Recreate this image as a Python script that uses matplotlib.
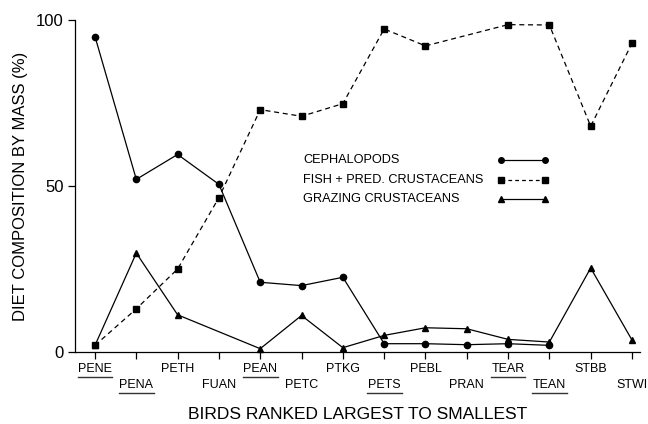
import matplotlib
matplotlib.use("Agg")
import matplotlib.pyplot as plt
import matplotlib.transforms as mtransforms
import numpy as np

birds = ["PENE", "PENA", "PETH", "FUAN", "PEAN", "PETC", "PTKG",
         "PETS", "PEBL", "PRAN", "TEAR", "TEAN", "STBB", "STWI"]
underlined = ["PENE", "PENA", "PEAN", "PETS", "TEAR", "TEAN"]

cephalopods = [95, 52, 59.5, 50.5, 21, 20, 22.5, 2.5, 2.5, 2.2, 2.5, 2, None, None]
fish_pred = [2, 13, 25, 46.5, 73, 71, 74.8, 97.3, 92.2, None, 98.6, 98.5, 68, 93]
grazing = [2, 29.8, 11.2, None, 1, 11, 1.3, 5, 7.3, 7, 3.8, 3, 25.3, 3.6]

plt.rcParams['font.family'] = ['Liberation Sans', 'DejaVu Sans']

fig = plt.figure(figsize=(6.48, 4.24), dpi=100)
ax = fig.add_axes([75/648, 1-352/424, 565/648, 332/424])

x = np.arange(len(birds))

def series(vals):
    xs = [xi for xi, v in zip(x, vals) if v is not None]
    ys = [v for v in vals if v is not None]
    return xs, ys

lw = 0.9
xs, ys = series(cephalopods)
ax.plot(xs, ys, color='black', lw=lw, marker='o', ms=4.5, clip_on=False)
xs, ys = series(fish_pred)
ax.plot(xs, ys, color='black', lw=lw, ls=(0, (4, 3)), marker='s', ms=5, clip_on=False)
xs, ys = series(grazing)
ax.plot(xs, ys, color='black', lw=lw, marker='^', ms=5, clip_on=False)

ax.set_ylim(0, 100)
ax.set_xlim(-20/41.3, 13 + 8/41.3)
ax.set_yticks([0, 50, 100])
ax.set_yticklabels(["0", "50", "100"], fontsize=12)
ax.set_xticks(x)
ax.set_xticklabels([])
ax.tick_params(axis='both', direction='out', length=5, width=0.9, color='black')
ax.tick_params(axis='y', pad=3)
for s in ['top', 'right']:
    ax.spines[s].set_visible(False)
for s in ['left', 'bottom']:
    ax.spines[s].set_linewidth(0.9)

trans = mtransforms.blended_transform_factory(ax.transData, ax.transAxes)
for i, b in enumerate(birds):
    yy = -0.052 if i % 2 == 0 else -0.100
    ax.text(i, yy, b, transform=trans, ha='center', va='center', fontsize=9)
    if b in underlined:
        uy = yy - 0.022
        ax.plot([i - 0.42, i + 0.42], [uy, uy], transform=trans, color='#333333',
                lw=1.0, clip_on=False)

ax.set_xlabel("BIRDS RANKED LARGEST TO SMALLEST", fontsize=12.5, labelpad=31)
ax.set_ylabel("DIET COMPOSITION BY MASS (%)", fontsize=12, labelpad=6)

# legend drawn manually (text left, sample right)
leg_labels = ["CEPHALOPODS", "FISH + PRED. CRUSTACEANS", "GRAZING CRUSTACEANS"]
leg_styles = [('-', 'o', 4.0), ((0, (3, 2.5)), 's', 4.5), ('-', '^', 4.5)]
leg_rows = [160, 180, 199]
for lab, (ls, mk, ms), ry in zip(leg_labels, leg_styles, leg_rows):
    fy = 1 - ry / 424
    fig.text(303/648, fy, lab, ha='left', va='center', fontsize=9.2)
    fig.add_artist(plt.Line2D([501/648, 545/648], [fy, fy], color='black', lw=lw,
                              ls=ls, marker=mk, ms=ms, transform=fig.transFigure))

fig.savefig("out.png", dpi=100)
